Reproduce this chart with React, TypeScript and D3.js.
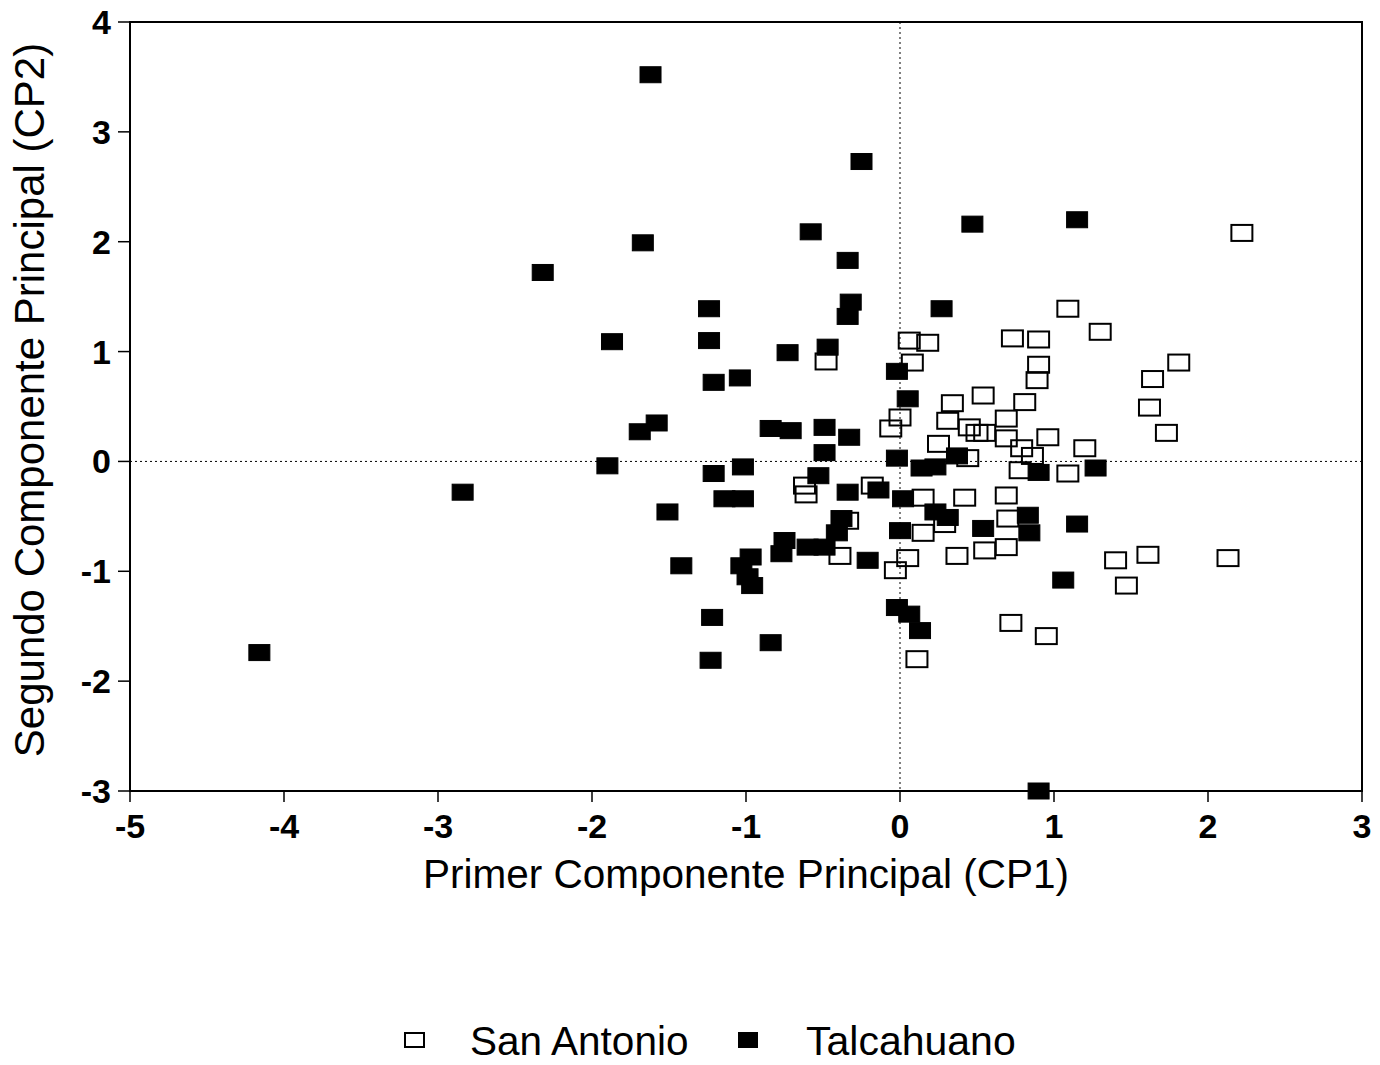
import React from "react";
import * as d3 from "d3";

const sanAntonioX = [2.22, 1.09, 1.30, 1.81, 1.64, 1.62, 1.73, 0.73, 0.90, 0.90, 0.89, 0.06, 0.18, 0.08, -0.48, 0.54, 0.81, 0.69, 0.34, 0.31, 0.00, -0.06, 0.45, 0.50, 0.55, 0.69, 0.96, 0.25, 0.79, 0.86, 1.20, 0.44, 0.78, 1.09, 0.69, 0.42, 0.15, 0.29, 0.15, 0.70, 0.69, 0.55, 0.05, 0.37, -0.03, -0.34, -0.39, -0.62, -0.61, -0.18, 1.40, 1.61, 1.47, 2.13, 0.95, 0.72, 0.11];
const sanAntonioY = [2.08, 1.39, 1.18, 0.90, 0.75, 0.49, 0.26, 1.12, 1.11, 0.88, 0.74, 1.10, 1.08, 0.90, 0.91, 0.60, 0.54, 0.39, 0.53, 0.37, 0.40, 0.30, 0.31, 0.26, 0.26, 0.21, 0.22, 0.16, 0.12, 0.05, 0.12, 0.03, -0.08, -0.11, -0.31, -0.33, -0.33, -0.57, -0.65, -0.52, -0.78, -0.81, -0.88, -0.86, -0.99, -0.54, -0.86, -0.22, -0.30, -0.22, -0.90, -0.85, -1.13, -0.88, -1.59, -1.47, -1.80];

const talcahuanoX = [-1.62, -0.25, 0.47, 1.15, -0.58, -1.67, -2.32, -0.34, -0.32, -0.34, 0.27, -1.24, -1.24, -1.87, -0.73, -0.47, -1.04, -1.21, -0.02, 0.05, -1.58, -1.69, -0.84, -0.71, -0.49, -0.33, -0.49, -1.90, -2.84, -1.21, -1.02, -0.53, -0.02, 0.14, 0.23, 0.37, 0.90, 1.27, -0.34, -0.14, -1.14, -1.02, 0.02, -1.51, -0.38, -0.41, 0.23, 0.31, 0.83, 0.84, 0.00, 0.54, -0.75, -0.77, -0.60, -0.49, -0.21, 1.15, 1.06, -0.02, 0.06, 0.13, -0.84, -0.97, -1.03, -0.99, -0.96, -1.42, -1.22, -1.23, -4.16, 0.90];
const talcahuanoY = [3.52, 2.73, 2.16, 2.20, 2.09, 1.99, 1.72, 1.83, 1.45, 1.32, 1.39, 1.39, 1.10, 1.09, 0.99, 1.04, 0.76, 0.72, 0.82, 0.57, 0.35, 0.27, 0.30, 0.28, 0.31, 0.22, 0.08, -0.04, -0.28, -0.11, -0.05, -0.13, 0.03, -0.06, -0.05, 0.05, -0.10, -0.06, -0.28, -0.26, -0.34, -0.34, -0.34, -0.46, -0.52, -0.65, -0.46, -0.51, -0.49, -0.65, -0.63, -0.61, -0.72, -0.84, -0.78, -0.78, -0.90, -0.57, -1.08, -1.33, -1.39, -1.54, -1.65, -0.87, -0.95, -1.05, -1.13, -0.95, -1.42, -1.81, -1.74, -3.00];

const xTicks = [-5, -4, -3, -2, -1, 0, 1, 2, 3];
const yTicks = [-3, -2, -1, 0, 1, 2, 3, 4];
const seriesNames = ["San Antonio", "Talcahuano"];

const FONT = "'Liberation Sans', Arial, Helvetica, sans-serif";

export default function App() {
  const left = 130, right = 1362, top = 22, bottom = 791;
  const x = d3.scaleLinear().domain([-5, 3]).range([left, right]);
  const y = d3.scaleLinear().domain([-3, 4]).range([bottom, top]);
  const mw = 21, mh = 16;

  const open = sanAntonioX.map((v, i) => [v, sanAntonioY[i]]);
  const filled = talcahuanoX.map((v, i) => [v, talcahuanoY[i]]);

  return (
    <svg width={1380} height={1065} style={{ position: "absolute", left: 0, top: 0, background: "#fff" }}>
      <rect x={0} y={0} width={1380} height={1065} fill="#fff" />
      {/* reference lines */}
      <line x1={x(0)} x2={x(0)} y1={top} y2={bottom} stroke="#000" strokeWidth={1} strokeDasharray="2,3" />
      <line x1={left} x2={right} y1={y(0)} y2={y(0)} stroke="#000" strokeWidth={1} strokeDasharray="2,3" />

      {/* markers */}
      {open.map((p, i) => (
        <rect key={"o" + i} x={x(p[0]) - mw / 2} y={y(p[1]) - mh / 2} width={mw} height={mh}
          fill="none" stroke="#000" strokeWidth={2} />
      ))}
      {filled.map((p, i) => (
        <rect key={"f" + i} x={x(p[0]) - mw / 2} y={y(p[1]) - mh / 2} width={mw} height={mh}
          fill="#000" stroke="#000" strokeWidth={1} />
      ))}

      {/* frame */}
      <rect x={left} y={top} width={right - left} height={bottom - top} fill="none" stroke="#000" strokeWidth={2} />

      {/* x ticks */}
      {xTicks.map((t) => (
        <g key={"xt" + t}>
          <line x1={x(t)} x2={x(t)} y1={bottom} y2={bottom + 11} stroke="#000" strokeWidth={1.5} />
          <text x={x(t)} y={838} textAnchor="middle" fontFamily={FONT} fontWeight="bold" fontSize={34}>{t}</text>
        </g>
      ))}
      {/* y ticks */}
      {yTicks.map((t) => (
        <g key={"yt" + t}>
          <line x1={left - 12} x2={left} y1={y(t)} y2={y(t)} stroke="#000" strokeWidth={1.5} />
          <text x={111} y={y(t) + 12} textAnchor="end" fontFamily={FONT} fontWeight="bold" fontSize={34}>{t}</text>
        </g>
      ))}

      {/* axis titles */}
      <text x={746} y={888} textAnchor="middle" fontFamily={FONT} fontSize={40.5}>Primer Componente Principal (CP1)</text>
      <text transform={`translate(44,400) rotate(-90)`} textAnchor="middle" fontFamily={FONT} fontSize={42}>Segundo Componente Principal (CP2)</text>

      {/* legend */}
      <rect x={405} y={1033} width={19} height={14} fill="none" stroke="#000" strokeWidth={2} />
      <text x={470} y={1055} fontFamily={FONT} fontSize={40.5}>{seriesNames[0]}</text>
      <rect x={738} y={1032} width={20} height={16} fill="#000" />
      <text x={806} y={1055} fontFamily={FONT} fontSize={41}>{seriesNames[1]}</text>
    </svg>
  );
}
